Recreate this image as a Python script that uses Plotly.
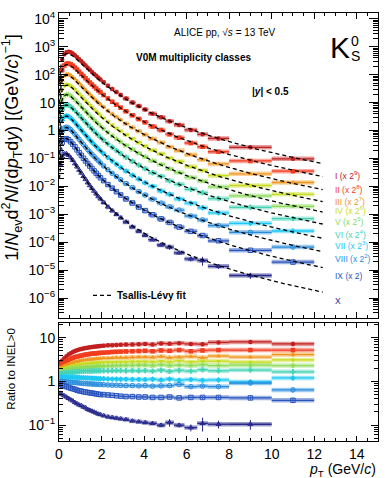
import numpy as np
import plotly.graph_objects as go

# ---------------- data ----------------
pt_edges = [0.0, 0.1, 0.2, 0.3, 0.4, 0.5, 0.6, 0.7, 0.8, 0.9, 1.0, 1.1, 1.2, 1.3, 1.4, 1.5, 1.6,
            1.7, 1.8, 1.9, 2.0, 2.2, 2.4, 2.6, 2.8, 3.0, 3.3, 3.6, 3.9, 4.2, 4.6, 5.0, 5.4,
            5.9, 6.5, 7.0, 8.0, 10.0, 12.0]

# INEL>0 reference spectrum, 1/Nev d2N/(dpT dy)
inel_spectrum = [0.11, 0.229, 0.313, 0.337, 0.320, 0.282, 0.239, 0.198, 0.162, 0.132,
                 0.1075, 0.0877, 0.0718, 0.0590, 0.0488, 0.0406, 0.0339, 0.0284, 0.0240, 0.0204,
                 0.0161, 0.0119, 0.00899, 0.00689, 0.00535, 0.00396, 0.00283, 0.00207, 0.00154,
                 0.00112, 0.000797, 0.000581, 0.000417, 0.000286, 0.000202, 0.000131, 6.13e-5, 2.63e-5]

class_names = ["I", "II", "III", "IV", "V", "VI", "VII", "VIII", "IX", "X"]
class_scale_exp = [9, 8, 7, 6, 5, 4, 3, 2, 1, 0]

ratio_I = [2.6, 3.0, 3.4, 3.75, 4.1, 4.4, 4.7, 4.95, 5.15, 5.35, 5.5, 5.65, 5.8, 5.9, 6.0, 6.1, 6.2, 6.3,
           6.35, 6.45, 6.55, 6.7, 6.75, 6.8, 6.9, 6.95, 7.0, 7.1, 7.2, 7.0, 7.4, 7.3, 7.5, 7.2, 7.1, 7.8, 8.0, 7.2]
ratio_II = [2.3, 2.5, 2.7, 2.9, 3.1, 3.3, 3.45, 3.6, 3.7, 3.8, 3.9, 4.0, 4.1, 4.15, 4.25, 4.3, 4.35, 4.4,
            4.45, 4.5, 4.55, 4.6, 4.7, 4.75, 4.8, 4.85, 4.9, 4.95, 5.0, 4.9, 5.1, 5.0, 5.2, 4.9, 5.1, 5.2, 5.2, 5.2]
ratio_III = [2.05, 2.15, 2.3, 2.4, 2.5, 2.6, 2.7, 2.8, 2.85, 2.95, 3.0, 3.05, 3.1, 3.15, 3.2, 3.2, 3.25, 3.3,
             3.3, 3.35, 3.4, 3.4, 3.45, 3.5, 3.5, 3.5, 3.55, 3.6, 3.6, 3.55, 3.7, 3.5, 3.6, 3.7, 3.5, 3.8, 3.6, 4.1]
ratio_IV = [1.9, 1.95, 2.05, 2.1, 2.15, 2.2, 2.28, 2.35, 2.4, 2.45, 2.5, 2.53, 2.56, 2.6, 2.62, 2.64, 2.66, 2.68,
            2.7, 2.7, 2.72, 2.74, 2.76, 2.78, 2.8, 2.8, 2.82, 2.83, 2.85, 2.8, 2.9, 2.8, 2.95, 2.8, 2.9, 2.9, 2.75, 3.1]
ratio_V = [1.7, 1.75, 1.8, 1.85, 1.9, 1.95, 1.98, 2.01, 2.04, 2.07, 2.1, 2.12, 2.14, 2.16, 2.17, 2.18, 2.2, 2.21,
           2.22, 2.24, 2.25, 2.26, 2.28, 2.29, 2.3, 2.31, 2.32, 2.33, 2.35, 2.3, 2.4, 2.3, 2.35, 2.3, 2.4, 2.3, 2.35, 2.3]
ratio_VI = [1.5, 1.52, 1.54, 1.56, 1.58, 1.6, 1.62, 1.64, 1.66, 1.68, 1.7, 1.71, 1.72, 1.72, 1.73, 1.73, 1.74, 1.74,
            1.75, 1.75, 1.75, 1.75, 1.76, 1.76, 1.76, 1.75, 1.76, 1.75, 1.76, 1.72, 1.8, 1.7, 1.78, 1.72, 1.85, 1.75, 1.82, 1.66]
ratio_VII = [1.25, 1.26, 1.26, 1.26, 1.25, 1.25, 1.24, 1.24, 1.23, 1.23, 1.22, 1.21, 1.2, 1.2, 1.19, 1.18, 1.18, 1.17,
             1.16, 1.15, 1.15, 1.14, 1.13, 1.13, 1.12, 1.12, 1.11, 1.11, 1.1, 1.12, 1.08, 1.13, 1.07, 1.1, 1.06, 1.08, 0.97, 1.2]
ratio_VIII = [1.0, 1.0, 0.99, 0.98, 0.97, 0.96, 0.95, 0.94, 0.93, 0.92, 0.91, 0.9, 0.89, 0.88, 0.88, 0.87, 0.87, 0.86,
              0.86, 0.85, 0.84, 0.83, 0.82, 0.82, 0.81, 0.8, 0.8, 0.79, 0.8, 0.78, 0.79, 0.8, 0.85, 0.76, 0.78, 0.76, 0.92, 0.64]
ratio_IX = [0.85, 0.82, 0.79, 0.76, 0.73, 0.7, 0.68, 0.66, 0.63, 0.61, 0.6, 0.58, 0.57, 0.56, 0.55, 0.54, 0.53, 0.52,
            0.51, 0.5, 0.5, 0.49, 0.48, 0.47, 0.46, 0.45, 0.45, 0.44, 0.44, 0.43, 0.43, 0.44, 0.42, 0.43, 0.43, 0.43, 0.42, 0.37]
ratio_X = [0.54, 0.5, 0.47, 0.44, 0.41, 0.38, 0.36, 0.33, 0.31, 0.29, 0.28, 0.26, 0.25, 0.23, 0.22, 0.21, 0.2, 0.19,
           0.18, 0.175, 0.165, 0.155, 0.15, 0.145, 0.14, 0.135, 0.125, 0.12, 0.115, 0.11, 0.1, 0.115, 0.1, 0.088, 0.11, 0.105, 0.105, None]

stat_rel = [0.02, 0.01, 0.01, 0.01, 0.01, 0.01, 0.01, 0.01, 0.01, 0.01, 0.01, 0.01, 0.01, 0.01, 0.01, 0.01, 0.01, 0.01,
            0.01, 0.01, 0.01, 0.01, 0.015, 0.015, 0.015, 0.02, 0.02, 0.02, 0.025, 0.03, 0.03, 0.04, 0.04, 0.05, 0.06, 0.06, 0.08, 0.12]
stat_rel_X = [0.03, 0.02, 0.02, 0.02, 0.02, 0.02, 0.02, 0.02, 0.02, 0.02, 0.02, 0.03, 0.03, 0.03, 0.03, 0.03, 0.03, 0.04,
              0.04, 0.04, 0.04, 0.04, 0.05, 0.05, 0.05, 0.06, 0.06, 0.07, 0.08, 0.08, 0.1, 0.2, 0.12, 0.18, 0.35, 0.2, 0.25, None]

# Tsallis-Levy fit parameters per class: dN/dy, T (GeV), n
fit_dndy = [1.1705, 0.9253, 0.7315, 0.627, 0.5575, 0.4657, 0.3577, 0.2724, 0.2055, 0.1058]
fit_T = [0.2196, 0.2115, 0.2025, 0.1948, 0.1922, 0.1863, 0.1755, 0.1692, 0.1548, 0.130]
fit_n = [5.5, 5.5, 5.5, 5.5, 5.5, 5.5, 5.5, 5.5, 5.5, 5.5]
K0S_MASS = 0.497611

ratios = [ratio_I, ratio_II, ratio_III, ratio_IV, ratio_V, ratio_VI, ratio_VII, ratio_VIII, ratio_IX, ratio_X]
stats = [stat_rel] * 9 + [stat_rel_X]

# ---------------- style ----------------
colors = ["#c21f1f", "#f23c1e", "#f0961e", "#c8dc1e", "#8cdc5a", "#46d2b4",
          "#1ec8f5", "#288cdc", "#2855be", "#28288c"]
symbols = ["circle", "square", "triangle-up", "triangle-down", "star", "cross",
           "diamond", "circle-open", "square-open", "triangle-up-open"]
label_pos_log = [-1.61, -2.11, -2.53, -2.88, -3.27, -3.71, -4.13, -4.59, -5.20, -6.12]
FONT = "Liberation Sans, Arial, sans-serif"

W, H = 390, 478
ML, MR, MT, MB = 59, 12, 9, 37
PH = H - MT - MB
PW = W - ML - MR


def py(p):  # pixel y -> paper y
    return (H - MB - p) / PH


def px(p):  # pixel x -> paper x
    return (p - ML) / PW


def rgba(hexc, a):
    h = hexc.lstrip("#")
    r, g, b = int(h[0:2], 16), int(h[2:4], 16), int(h[4:6], 16)
    return f"rgba({r},{g},{b},{a})"


def levy(pt, dndy, T, n, m=K0S_MASS):
    mt = np.sqrt(pt ** 2 + m ** 2)
    return dndy * pt * (n - 1) * (n - 2) / (n * T * (n * T + m * (n - 2))) * (1 + (mt - m) / (n * T)) ** (-n)


edges = np.array(pt_edges)
centers = 0.5 * (edges[1:] + edges[:-1])
halfw = 0.5 * (edges[1:] - edges[:-1])

fig = go.Figure()

data_traces = []
box_traces = []
for i in range(10):
    r = ratios[i]
    idx = [k for k in range(len(r)) if r[k] is not None]
    x = centers[idx]
    hw = halfw[idx]
    scale = 2.0 ** class_scale_exp[i]
    rv = np.array([r[k] for k in idx])
    sv = np.array([stats[i][k] for k in idx])
    yv = rv * np.array([inel_spectrum[k] for k in idx]) * scale
    for (xa, ya, yy, ee) in [("x", "y", yv, sv * yv), ("x2", "y2", rv, sv * rv)]:
        box_traces.append(go.Scatter(
            x=x, y=yy, xaxis=xa, yaxis=ya, mode="markers",
            marker=dict(size=1, color="rgba(0,0,0,0)"),
            error_x=dict(type="data", array=hw, color=rgba(colors[i], 0.45), thickness=4.5, width=0),
            hoverinfo="skip", showlegend=False))
        open_m = symbols[i].endswith("open")
        data_traces.append(go.Scatter(
            x=x, y=yy, xaxis=xa, yaxis=ya, mode="markers",
            marker=dict(symbol=symbols[i], size=4.5, color=colors[i],
                        line=dict(color=colors[i], width=1 if open_m else 0)),
            error_x=dict(type="data", array=hw, color=colors[i], thickness=1.3, width=0),
            error_y=dict(type="data", array=ee, color=colors[i], thickness=1, width=0),
            showlegend=False))

for t in box_traces + data_traces:
    fig.add_trace(t)

xfit = np.linspace(0.02, 12.4, 300)
for i in range(10):
    yfit = levy(xfit, fit_dndy[i], fit_T[i], fit_n[i]) * 2.0 ** class_scale_exp[i]
    fig.add_trace(go.Scatter(x=xfit, y=yfit, xaxis="x", yaxis="y", mode="lines",
                             line=dict(color="black", width=1.3, dash="4px,3px"),
                             hoverinfo="skip", showlegend=False))

top_dom = [py(317), 1.0]
bot_dom = [0.0, py(322)]

axis_common = dict(showline=True, linecolor="black", linewidth=1, mirror="ticks",
                   showgrid=False, zeroline=False, ticks="inside", tickcolor="black")

fig.update_layout(
    width=W, height=H, autosize=False,
    margin=dict(l=ML, r=MR, t=MT, b=MB, pad=0),
    paper_bgcolor="white", plot_bgcolor="white",
    font=dict(family=FONT, color="black"),
    xaxis=dict(domain=[0, 1], anchor="y", range=[0, 15], dtick=2, ticklen=6,
               showticklabels=False,
               minor=dict(dtick=0.5, ticks="inside", ticklen=3, tickcolor="black"),
               **axis_common),
    yaxis=dict(domain=top_dom, anchor="x", type="log", range=[-6.72, 4.213],
               tickmode="array",
               tickvals=[1e-6, 1e-5, 1e-4, 1e-3, 1e-2, 1e-1, 1, 10, 100, 1000, 10000],
               ticktext=["10<sup>−6</sup>", "10<sup>−5</sup>", "10<sup>−4</sup>", "10<sup>−3</sup>",
                         "10<sup>−2</sup>", "10<sup>−1</sup>", "1", "10", "10<sup>2</sup>",
                         "10<sup>3</sup>", "10<sup>4</sup>"],
               ticklen=9, tickfont=dict(size=14, family=FONT),
               minor=dict(dtick="D1", ticks="inside", ticklen=5, tickcolor="black"),
               **axis_common),
    xaxis2=dict(domain=[0, 1], anchor="y2", range=[0, 15], dtick=2, ticklen=5,
                tickfont=dict(size=14, family=FONT),
                minor=dict(dtick=0.5, ticks="inside", ticklen=3, tickcolor="black"),
                **axis_common),
    yaxis2=dict(domain=bot_dom, anchor="x2", type="log", range=[-1.362, 1.333],
                tickmode="array", tickvals=[0.1, 1, 10], ticktext=["10<sup>−1</sup>", "1", "10"],
                ticklen=7, tickfont=dict(size=14, family=FONT),
                minor=dict(dtick="D1", ticks="inside", ticklen=4, tickcolor="black"),
                **axis_common),
)

ann = []
ann.append(dict(xref="paper", yref="paper", x=px(12), y=py(145), textangle=-90,
                text="1/<i>N</i><sub>ev</sub>d<sup>2</sup><i>N</i>/(d<i>p</i><sub>T</sub>d<i>y</i>) [(GeV/<i>c</i>)<sup>−1</sup>]",
                showarrow=False, font=dict(size=18, family=FONT), xanchor="center", yanchor="middle"))
ann.append(dict(xref="paper", yref="paper", x=px(11), y=py(368), textangle=-90,
                text="Ratio to INEL&gt;0", showarrow=False, font=dict(size=11.5, family=FONT),
                xanchor="center", yanchor="middle"))
ann.append(dict(xref="paper", yref="paper", x=1.0, y=py(459), xanchor="right", yanchor="top",
                text="<i>p</i><sub>T</sub> (GeV/<i>c</i>)", showarrow=False, font=dict(size=14, family=FONT)))
ann.append(dict(xref="paper", yref="paper", x=px(225), y=py(29), xanchor="center", yanchor="middle",
                text="ALICE pp, √<i>s</i> = 13 TeV", showarrow=False, font=dict(size=10, family=FONT)))
ann.append(dict(xref="paper", yref="paper", x=px(193), y=py(54), xanchor="center", yanchor="middle",
                text="<b>V0M multiplicity classes</b>", showarrow=False, font=dict(size=10, family=FONT)))
ann.append(dict(xref="paper", yref="paper", x=px(250), y=py(88), xanchor="left", yanchor="middle",
                text="<b>|<i>y</i>| &lt; 0.5</b>", showarrow=False, font=dict(size=10, family=FONT)))
ann.append(dict(xref="paper", yref="paper", x=px(340), y=py(44), xanchor="center", yanchor="middle",
                text="K", showarrow=False, font=dict(size=30, family=FONT)))
ann.append(dict(xref="paper", yref="paper", x=px(355), y=py(37), xanchor="center", yanchor="middle",
                text="0", showarrow=False, font=dict(size=14, family=FONT)))
ann.append(dict(xref="paper", yref="paper", x=px(355), y=py(52), xanchor="center", yanchor="middle",
                text="S", showarrow=False, font=dict(size=14, family=FONT)))
ann.append(dict(xref="paper", yref="paper", x=px(115), y=py(294), xanchor="left", yanchor="middle",
                text="<b>Tsallis-Lévy fit</b>", showarrow=False, font=dict(size=10, family=FONT)))

for i in range(10):
    e = class_scale_exp[i]
    if e >= 2:
        lab = f"{class_names[i]} (x 2<sup>{e}</sup>)"
    elif e == 1:
        lab = f"{class_names[i]} (x 2)"
    else:
        lab = class_names[i]
    ann.append(dict(xref="x", yref="y", x=12.9, y=label_pos_log[i], xanchor="left", yanchor="middle",
                    text=lab, showarrow=False, font=dict(size=8.5, family=FONT, color=colors[i])))

fig.update_layout(annotations=ann)
fig.add_shape(type="line", xref="paper", yref="paper", x0=px(93), x1=px(112), y0=py(294), y1=py(294),
              line=dict(color="black", width=1.3, dash="4px,3px"))

fig.write_html("out.html", config={"displayModeBar": False},
               post_script="document.body.style.margin='0px';document.body.style.padding='0px';"
                           "document.documentElement.style.overflow='hidden';")
